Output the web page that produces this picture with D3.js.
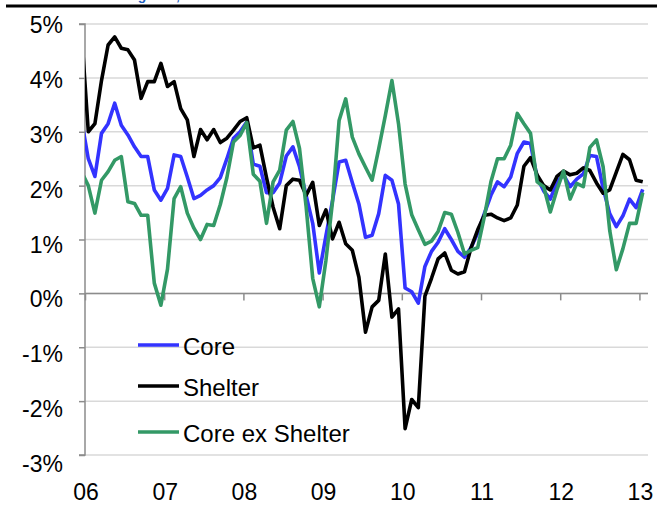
<!DOCTYPE html>
<html><head><meta charset="utf-8">
<script src="https://cdn.jsdelivr.net/npm/d3@7"></script>
<style>
body{margin:0;background:#fff}
svg{display:block}
text{font-family:"Liberation Sans",Arial,Helvetica,sans-serif}
</style>
</head><body>
<svg id="chart" width="668" height="508"></svg>
<script>
// Monthly data, Dec 2005 .. Jan 2013 (first point lies left of the axis and is clipped)
const firstMonth = "2005-12";
const yearLabels = ["06","07","08","09","10","11","12","13"];
const yTickValues = [5,4,3,2,1,0,-1,-2,-3];
const yTickLabels = ["5%","4%","3%","2%","1%","0%","-1%","-2%","-3%"];
const seriesNames = ["Core","Shelter","Core ex Shelter"];
const seriesColors = ["#3333ff","#000000","#339966"];

const core = [3.2,
 2.50,2.17,2.97,3.15,3.53,3.12,2.94,2.72,2.54,2.54,1.92,1.73,
 1.95,2.57,2.54,2.16,1.76,1.82,1.92,2.00,2.15,2.50,2.88,3.00,
 3.18,2.40,2.36,1.87,1.87,2.05,2.55,2.72,2.35,1.82,1.30,0.38,
 1.07,1.72,2.44,2.47,2.06,1.66,1.04,1.08,1.48,2.19,2.10,1.66,
 0.10,0.03,-0.18,0.50,0.78,0.95,1.20,1.00,0.78,0.67,0.85,1.12,
 1.48,1.82,2.07,1.98,2.16,2.60,2.81,2.78,2.15,1.90,1.75,2.07,
 2.20,1.98,2.12,2.22,2.56,2.54,1.95,1.48,1.24,1.44,1.75,1.59,
 1.93];

const shelter = [4.8,
 3.00,3.15,3.95,4.61,4.76,4.55,4.52,4.33,3.62,3.93,3.93,4.27,
 3.84,3.93,3.43,3.22,2.54,3.04,2.85,3.04,2.80,2.88,3.03,3.19,
 3.26,2.70,2.75,2.15,1.60,1.20,2.00,2.12,2.10,1.82,2.06,1.26,
 1.55,1.01,1.32,0.92,0.80,0.30,-0.72,-0.25,-0.13,0.73,-0.44,-0.29,
 -2.51,-1.97,-2.12,-0.05,0.28,0.64,0.75,0.43,0.36,0.40,0.85,1.18,
 1.45,1.47,1.40,1.35,1.40,1.64,2.36,2.52,2.20,2.00,1.92,2.17,
 2.27,2.20,2.23,2.33,2.28,2.05,1.86,1.92,2.25,2.58,2.48,2.10,
 2.07];

const coreExShelter = [2.25,
 2.00,1.49,2.10,2.26,2.47,2.54,1.70,1.67,1.45,1.45,0.19,-0.22,
 0.45,1.76,1.98,1.49,1.21,1.00,1.28,1.26,1.65,2.15,2.81,2.93,
 3.17,2.21,2.08,1.30,2.07,2.29,3.03,3.19,2.69,1.61,0.28,-0.25,
 0.61,1.70,3.21,3.61,2.90,2.59,2.34,2.10,2.68,3.30,3.95,3.15,
 2.03,1.46,1.18,0.91,0.97,1.15,1.50,1.47,1.13,0.73,0.80,0.85,
 1.42,2.07,2.50,2.50,2.75,3.34,3.15,2.97,2.07,1.98,1.51,1.92,
 2.27,1.75,2.04,1.98,2.71,2.85,2.35,1.17,0.44,0.83,1.30,1.30,
 1.87];

const allSeries = [core, shelter, coreExShelter];

const svg = d3.select("#chart");
const plotLeft = 85, plotRight = 648, plotTop = 24, plotBottom = 455;

// month offset from Jan 2006; points sit mid-month (between ticks)
const x = d3.scaleLinear().domain([0, 85.3]).range([plotLeft, plotRight]);
const y = d3.scaleLinear().domain([-3, 5]).range([plotBottom, plotTop]);
const monthPos = i => x(i - 1 + 0.5); // index 0 = Dec 2005

// header rule and title cut off by the top edge (as in the source)
svg.append("text").attr("x", 67).attr("y", 0)
  .attr("fill", "#1f5fbf").attr("font-weight", "bold").attr("font-size", 14)
  .text("Annualizing rate, 3m");
svg.append("rect").attr("x", 6).attr("y", 4.5).attr("width", 651).attr("height", 3).attr("fill", "#000");

// gridlines
svg.append("g").selectAll("line").data(yTickValues).join("line")
  .attr("x1", plotLeft).attr("x2", plotRight)
  .attr("y1", d => y(d)).attr("y2", d => y(d))
  .attr("stroke", "#d9d9d9").attr("stroke-width", 1.5);

// y axis
const yAxis = d3.axisLeft(y).tickValues(yTickValues).tickSize(6).tickFormat("");
const gy = svg.append("g").attr("transform", `translate(${plotLeft},0)`).call(yAxis);
gy.select(".domain").attr("stroke", "#8c8c8c").attr("stroke-width", 1.5).attr("d", `M-6,${y(5)}H0V${y(-3)}H-6`);
gy.selectAll(".tick line").attr("stroke", "#8c8c8c").attr("stroke-width", 1.5);

svg.append("g").selectAll("text").data(yTickValues).join("text")
  .attr("x", 63).attr("y", d => y(d) + 1 + (5 - d) * 1.0)
  .attr("text-anchor", "end").attr("dominant-baseline", "central")
  .attr("font-size", 23).attr("fill", "#000")
  .text((d, i) => yTickLabels[i]);

// x axis at zero
const yearTicks = yearLabels.map((d, k) => 12 * k);
const xAxis = d3.axisBottom(x).tickValues(yearTicks).tickSize(7).tickFormat("");
const gx = svg.append("g").attr("transform", `translate(0,${y(0)})`).call(xAxis);
gx.select(".domain").attr("stroke", "#8c8c8c").attr("stroke-width", 1.5).attr("d", `M${plotLeft},0H${plotRight}`);
gx.selectAll(".tick line").attr("stroke", "#8c8c8c").attr("stroke-width", 1.5);

svg.append("g").selectAll("text").data(yearLabels).join("text")
  .attr("x", (d, k) => x(12 * k) + 1).attr("y", 492)
  .attr("text-anchor", "middle").attr("dominant-baseline", "central")
  .attr("font-size", 23).attr("fill", "#000")
  .text(d => d);

// series lines
svg.append("clipPath").attr("id", "plotclip")
  .append("rect").attr("x", plotLeft).attr("y", 0).attr("width", 668 - plotLeft).attr("height", 508);

const line = d3.line().x((d, i) => monthPos(i)).y(d => y(d));
svg.append("g").attr("clip-path", "url(#plotclip)")
  .selectAll("path").data(allSeries).join("path")
  .attr("d", line)
  .attr("fill", "none")
  .attr("stroke", (d, i) => seriesColors[i])
  .attr("stroke-width", 3.6)
  .attr("stroke-linejoin", "round");

// legend
const legendY = [345, 386, 432];
const lg = svg.append("g");
lg.selectAll("line").data(seriesNames).join("line")
  .attr("x1", 138).attr("x2", 179)
  .attr("y1", (d, i) => legendY[i]).attr("y2", (d, i) => legendY[i])
  .attr("stroke", (d, i) => seriesColors[i]).attr("stroke-width", 3.6);
lg.selectAll("text").data(seriesNames).join("text")
  .attr("x", 183).attr("y", (d, i) => legendY[i] + 1)
  .attr("dominant-baseline", "central")
  .attr("font-size", 24).attr("fill", "#000")
  .text(d => d);
</script>
</body></html>
